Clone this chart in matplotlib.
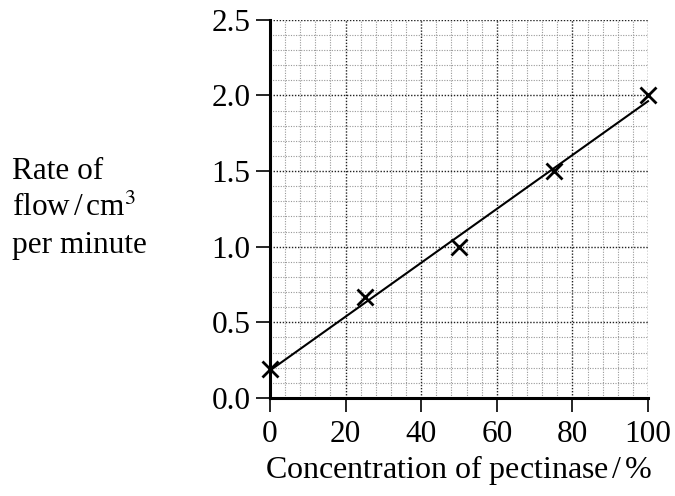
import numpy as np
import matplotlib
matplotlib.use("Agg")
import matplotlib.pyplot as plt
from matplotlib.ticker import MultipleLocator

plt.rcParams['font.family'] = ['Liberation Serif', 'DejaVu Serif']
plt.rcParams['mathtext.fontset'] = 'stix'

# data
concentration = [0, 25, 50, 75, 100]
flow_rate = [0.19, 0.67, 1.0, 1.5, 2.0]

x_ticks = [0, 20, 40, 60, 80, 100]
y_ticks = [0.0, 0.5, 1.0, 1.5, 2.0, 2.5]

fig = plt.figure(figsize=(6.75, 4.96), dpi=100)
ax = fig.add_axes([0.4, 0.1976, 0.56, 0.7624])

# grid: fine dotted every 4 / 0.1, heavier every 20 / 0.5
ax.xaxis.set_minor_locator(MultipleLocator(4))
ax.yaxis.set_minor_locator(MultipleLocator(0.1))
ax.grid(which='minor', color='#999999', linestyle=(0, (1, 1.3)), linewidth=0.8)
ax.grid(which='major', color='#222222', linestyle=(0, (1, 1.2)), linewidth=1.0)
ax.set_axisbelow(True)

# best fit line
slope, intercept = np.polyfit(concentration, flow_rate, 1)
fit_x = np.array([0, 100])
ax.plot(fit_x, slope * fit_x + intercept, color='black', linewidth=1.5, clip_on=False)

ax.plot(concentration, flow_rate, linestyle='none', marker='x', markersize=12,
        markeredgewidth=2, color='black', clip_on=False, zorder=5)

ax.set_xlim(0, 100)
ax.set_ylim(0, 2.5)
ax.set_xticks(x_ticks)
ax.set_yticks(y_ticks)
ax.set_yticklabels([f"{v:.1f}" for v in y_ticks])
ax.tick_params(which='major', direction='out', length=10, width=1.2,
               labelsize=22.5, pad=4, color='black')
ax.tick_params(axis='x', pad=6)
ax.tick_params(which='minor', length=0)

for s in ['top', 'right']:
    ax.spines[s].set_visible(False)
for s in ['left', 'bottom']:
    ax.spines[s].set_linewidth(2.2)

ax.set_xlabel(r'Concentration of pectinase$\,$/$\,$%', fontsize=23, labelpad=3)

fig.text(0.018, 0.58, 'Rate of\nflow$\\,$/$\\,$cm$^3$\nper minute', fontsize=22.5,
         ha='left', va='center', linespacing=1.36)

plt.savefig('out.png', dpi=100)
